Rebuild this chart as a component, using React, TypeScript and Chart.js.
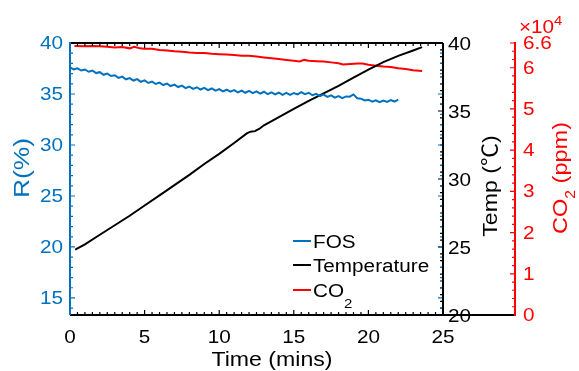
import React, { useEffect, useRef } from 'react';
import { Chart, registerables } from 'chart.js';

Chart.register(...registerables);

const FONT = '"Liberation Sans", Arial, sans-serif';
const TITLE_FONT = '"Liberation Sans", "Noto Sans CJK SC", Arial, sans-serif';
const BLUE = '#0072BD';
const RED = '#FF0000';
const BLACK = '#000000';
const SX = 1.15;

// ---- tick labels ----
const xTicks = [0, 5, 10, 15, 20, 25];
const rTicks = [15, 20, 25, 30, 35, 40];
const tempTicks = [20, 25, 30, 35, 40];
const co2Ticks = [0, 10000, 20000, 30000, 40000, 50000, 60000, 66000];
const co2TickLabels = ['0', '1', '2', '3', '4', '5', '6', '6.6'];

// ---- FOS reflectance R(%) vs time (mins) ----
const fosTime = [
  0, 0.25, 0.5, 0.75, 1, 1.25, 1.5, 1.75, 2, 2.25, 2.5, 2.75, 3, 3.25, 3.5, 3.75,
  4, 4.25, 4.5, 4.75, 5, 5.25, 5.5, 5.75, 6, 6.25, 6.5, 6.75, 7, 7.25, 7.5, 7.75,
  8, 8.25, 8.5, 8.75, 9, 9.25, 9.5, 9.75, 10, 10.25, 10.5, 10.75, 11, 11.25, 11.5, 11.75,
  12, 12.25, 12.5, 12.75, 13, 13.25, 13.5, 13.75, 14, 14.25, 14.5, 14.75, 15, 15.25, 15.5, 15.75,
  16, 16.25, 16.5, 16.75, 17, 17.25, 17.5, 17.75, 18, 18.25, 18.5, 18.75, 19, 19.25, 19.5, 19.75,
  20, 20.25, 20.5, 20.75, 21, 21.25, 21.5, 21.75, 22,
];
const fosR = [
  37.6, 37.42, 37.52, 37.3, 37.4, 37.18, 37.3, 37.05, 37.14, 36.88, 37.0, 36.76, 36.84, 36.58, 36.7, 36.44,
  36.56, 36.32, 36.46, 36.2, 36.34, 36.08, 36.22, 35.98, 36.12, 35.88, 36.02, 35.78, 35.92, 35.68, 35.82, 35.58,
  35.72, 35.5, 35.66, 35.44, 35.6, 35.38, 35.54, 35.32, 35.48, 35.26, 35.42, 35.22, 35.38, 35.16, 35.34, 35.12,
  35.3, 35.08, 35.26, 35.04, 35.22, 34.98, 35.16, 34.96, 35.14, 34.92, 35.1, 34.92, 35.1, 34.96, 35.18, 34.98,
  35.12, 34.88, 35.02, 34.8, 34.94, 34.72, 34.86, 34.64, 34.8, 34.6, 34.76, 34.74, 34.96, 34.58, 34.54, 34.36,
  34.44, 34.24, 34.38, 34.2, 34.36, 34.22, 34.4, 34.26, 34.44,
];

// ---- Temperature (°C) vs time ----
const tempTime = [0.35, 1, 2, 3, 4, 5, 6, 7, 8, 9, 10, 11, 11.85, 12.1, 12.4, 12.7, 13, 14, 15, 16, 17, 18, 19, 20, 21, 22, 23, 23.6];
const tempC = [24.8, 25.2, 25.9, 26.6, 27.3, 28.05, 28.8, 29.55, 30.3, 31.1, 31.85, 32.65, 33.35, 33.48, 33.52, 33.7, 33.95, 34.55, 35.15, 35.75, 36.3, 36.85, 37.45, 38.05, 38.6, 39.05, 39.45, 39.7];

// ---- CO2 (ppm) vs time ----
const co2Time = [0.3, 1, 1.5, 2, 2.5, 3, 3.5, 4, 4.3, 4.7, 5, 5.5, 6, 6.5, 7, 7.5, 8, 8.5, 9, 9.5, 10, 10.5, 11, 11.5, 12, 12.5, 13, 13.5, 14, 14.5, 15, 15.4, 15.7, 16, 16.5, 17, 17.5, 18, 18.3, 18.8, 19.3, 19.6, 20, 20.5, 21, 21.5, 22, 22.5, 23, 23.6];
const co2Ppm = [65300, 65200, 65300, 65200, 65100, 64900, 65000, 64700, 65100, 64700, 64600, 64600, 64300, 64200, 64000, 63900, 63700, 63600, 63600, 63400, 63300, 63200, 63100, 62900, 62900, 62700, 62500, 62300, 62100, 61900, 61700, 61500, 61900, 61700, 61600, 61500, 61300, 61100, 60800, 60900, 61000, 61000, 60700, 60500, 60300, 60200, 59900, 59700, 59400, 59200];

type Run = { text: string; size: number; dy: number };

function drawText(
  ctx: CanvasRenderingContext2D, s: string, x: number, y: number,
  size: number, color: string, align: CanvasTextAlign, baseline: CanvasTextBaseline, sx = SX,
) {
  ctx.save();
  ctx.translate(x, y);
  ctx.scale(sx, 1);
  ctx.font = `${size}px ${FONT}`;
  ctx.fillStyle = color;
  ctx.textAlign = align;
  ctx.textBaseline = baseline;
  ctx.fillText(s, 0, 0);
  ctx.restore();
}

function drawRuns(
  ctx: CanvasRenderingContext2D, runs: Run[], x: number, y: number, rot: number,
  color: string, align: 'left' | 'center', sx = SX,
) {
  ctx.save();
  ctx.translate(x, y);
  if (rot) ctx.rotate(rot);
  ctx.scale(sx, 1);
  ctx.fillStyle = color;
  ctx.textAlign = 'left';
  ctx.textBaseline = 'alphabetic';
  let total = 0;
  const widths = runs.map((r) => {
    ctx.font = `${r.size}px ${TITLE_FONT}`;
    const w = ctx.measureText(r.text).width;
    total += w;
    return w;
  });
  let cx = align === 'center' ? -total / 2 : 0;
  runs.forEach((r, i) => {
    ctx.font = `${r.size}px ${TITLE_FONT}`;
    ctx.fillText(r.text, cx, r.dy);
    cx += widths[i];
  });
  ctx.restore();
}

const axesPlugin = {
  id: 'matlabAxes',
  afterDatasetsDraw(chart: any) {
    const { ctx, chartArea, scales } = chart;
    const { left, right, top, bottom } = chartArea;
    const sx = scales.x, yR = scales.yR, yT = scales.yT, yC = scales.yC;
    const co2X = yC.left;

    const vTick = (scale: any, v: number, xPos: number, dir: number, len: number) => {
      const y = scale.getPixelForValue(v);
      ctx.moveTo(xPos, y);
      ctx.lineTo(xPos + dir * len, y);
    };
    const hTick = (v: number, yPos: number, dir: number, len: number) => {
      const x = sx.getPixelForValue(v);
      ctx.moveTo(x, yPos);
      ctx.lineTo(x, yPos + dir * len);
    };

    ctx.save();
    ctx.lineCap = 'butt';

    // x ticks (bottom up, top down)
    ctx.strokeStyle = BLACK;
    ctx.lineWidth = 1.2;
    ctx.beginPath();
    for (let v = 0; v <= 25.0001; v += 0.5) {
      const major = Math.abs(v / 5 - Math.round(v / 5)) < 1e-6;
      hTick(v, bottom, -1, major ? 5 : 3);
      hTick(v, top, 1, major ? 5 : 3);
    }
    ctx.stroke();

    // temperature ticks on right edge (pointing left)
    ctx.beginPath();
    for (let v = 20; v <= 40.0001; v += 0.5) {
      const major = Math.abs(v / 5 - Math.round(v / 5)) < 1e-6;
      vTick(yT, v, right, -1, major ? 5 : 3);
    }
    ctx.stroke();

    // R ticks, left axis (pointing right) and mirrored on right edge
    ctx.strokeStyle = BLUE;
    ctx.beginPath();
    for (let v = 14; v <= 40.0001; v += 1) {
      const major = v % 5 === 0;
      vTick(yR, v, left, 1, major ? 5 : 3);
      vTick(yR, v, right, -1, major ? 5 : 3);
    }
    ctx.stroke();

    // CO2 ticks (pointing left)
    ctx.strokeStyle = RED;
    ctx.beginPath();
    for (let v = 0; v <= 66000.1; v += 2000) {
      const major = v % 10000 === 0 || v === 66000;
      vTick(yC, v, co2X, -1, major ? 5 : 3);
    }
    ctx.stroke();

    // box lines
    ctx.lineWidth = 2;
    ctx.strokeStyle = BLACK;
    ctx.beginPath();
    ctx.moveTo(left, top);
    ctx.lineTo(right, top);
    ctx.moveTo(right, top);
    ctx.lineTo(right, bottom);
    ctx.moveTo(left, bottom);
    ctx.lineTo(co2X, bottom);
    ctx.stroke();

    ctx.strokeStyle = BLUE;
    ctx.beginPath();
    ctx.moveTo(left, top - 1);
    ctx.lineTo(left, bottom);
    ctx.stroke();

    ctx.strokeStyle = RED;
    ctx.beginPath();
    ctx.moveTo(co2X, top - 1);
    ctx.lineTo(co2X, bottom + 1);
    ctx.stroke();
    ctx.restore();

    // tick labels
    xTicks.forEach((v) => drawText(ctx, String(v), sx.getPixelForValue(v), bottom + 23, 18, BLACK, 'center', 'middle'));
    rTicks.forEach((v) => drawText(ctx, String(v), left - 7, yR.getPixelForValue(v) + 1, 18, BLUE, 'right', 'middle'));
    tempTicks.forEach((v) => drawText(ctx, String(v), right + 5, yT.getPixelForValue(v) + 2, 18, BLACK, 'left', 'middle'));
    co2Ticks.forEach((v, i) => drawText(ctx, co2TickLabels[i], co2X + 8, yC.getPixelForValue(v) + 1, 18, RED, 'left', 'middle'));

    // x10^4 exponent
    drawRuns(ctx, [
      { text: '\u00d7', size: 18, dy: 0 },
      { text: '10', size: 18, dy: 0 },
      { text: '4', size: 13, dy: -8 },
    ], co2X + 4, 33, 0, RED, 'left');

    // axis titles
    drawRuns(ctx, [{ text: 'Time (mins)', size: 21, dy: 0 }], 272, 366, 0, BLACK, 'center', 1.1);
    drawRuns(ctx, [{ text: 'R(%)', size: 22, dy: 0 }], 29, 168, -Math.PI / 2, BLUE, 'center', 1.2);
    drawRuns(ctx, [{ text: 'Temp (\u2103)', size: 21, dy: 0 }], 497, 186, -Math.PI / 2, BLACK, 'center', 1.1);
    drawRuns(ctx, [
      { text: 'CO', size: 21, dy: 0 },
      { text: '2', size: 14, dy: 8 },
      { text: ' (ppm)', size: 21, dy: 0 },
    ], 567, 178, -Math.PI / 2, RED, 'center', 1.12);

    // legend
    const legend = [
      { color: BLUE, y: 241, runs: [{ text: 'FOS', size: 18, dy: 0 }] },
      { color: BLACK, y: 265, runs: [{ text: 'Temperature', size: 18, dy: 0 }] },
      { color: RED, y: 290, runs: [{ text: 'CO', size: 18, dy: 0 }, { text: '2', size: 13, dy: 11 }] },
    ];
    legend.forEach((it) => {
      ctx.save();
      ctx.strokeStyle = it.color;
      ctx.lineWidth = 2;
      ctx.beginPath();
      ctx.moveTo(293, it.y);
      ctx.lineTo(311, it.y);
      ctx.stroke();
      ctx.restore();
      drawRuns(ctx, it.runs, 313, it.y + 6.5, 0, BLACK, 'left');
    });
  },
};

export default function App() {
  const ref = useRef<HTMLCanvasElement | null>(null);
  useEffect(() => {
    if (!ref.current) return;
    const chart = new Chart(ref.current, {
      type: 'line',
      data: {
        datasets: [
          {
            label: 'FOS',
            data: fosTime.map((t, i) => ({ x: t, y: fosR[i] })),
            borderColor: BLUE,
            borderWidth: 2,
            pointRadius: 0,
            yAxisID: 'yR',
          },
          {
            label: 'Temperature',
            data: tempTime.map((t, i) => ({ x: t, y: tempC[i] })),
            borderColor: BLACK,
            borderWidth: 2,
            pointRadius: 0,
            yAxisID: 'yT',
          },
          {
            label: 'CO2',
            data: co2Time.map((t, i) => ({ x: t, y: co2Ppm[i] })),
            borderColor: RED,
            borderWidth: 2,
            pointRadius: 0,
            yAxisID: 'yC',
          },
        ],
      },
      options: {
        responsive: false,
        animation: false,
        devicePixelRatio: 1,
        events: [],
        layout: { padding: { top: 43, left: 0, right: 0, bottom: 0 } },
        plugins: { legend: { display: false }, tooltip: { enabled: false } },
        scales: {
          x: {
            type: 'linear', position: 'bottom', min: 0, max: 25,
            ticks: { display: false }, grid: { display: false }, border: { display: false },
            afterFit: (s: any) => { s.height = 56; },
          },
          yR: {
            type: 'linear', position: 'left', min: 13.33, max: 40,
            ticks: { display: false }, grid: { display: false }, border: { display: false },
            afterFit: (s: any) => { s.width = 70; },
          },
          yT: {
            type: 'linear', position: 'right', weight: 0, min: 20, max: 40,
            ticks: { display: false }, grid: { display: false }, border: { display: false },
            afterFit: (s: any) => { s.width = 72; },
          },
          yC: {
            type: 'linear', position: 'right', weight: 1, min: 0, max: 66000,
            ticks: { display: false }, grid: { display: false }, border: { display: false },
            afterFit: (s: any) => { s.width = 64; },
          },
        },
      } as any,
      plugins: [axesPlugin],
    });
    return () => chart.destroy();
  }, []);
  return (
    <div style={{ position: 'fixed', left: 0, top: 0, width: 579, height: 371, background: '#fff' }}>
      <canvas ref={ref} width={579} height={371} style={{ display: 'block' }} />
    </div>
  );
}
